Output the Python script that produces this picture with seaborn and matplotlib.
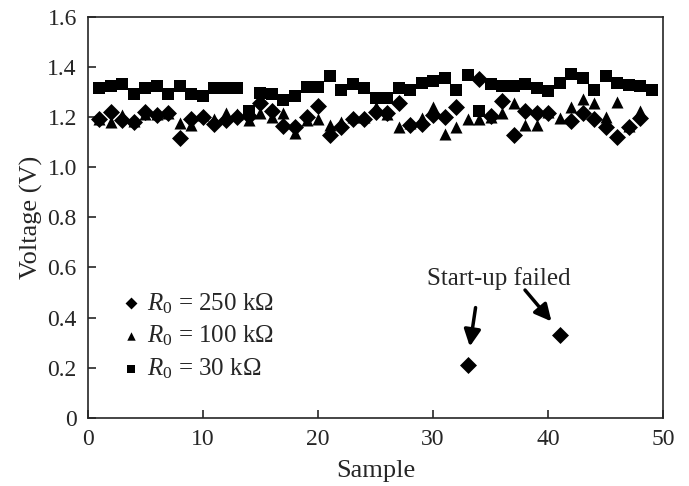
import numpy as np
import pandas as pd
import seaborn as sns
import matplotlib
matplotlib.use("Agg")
import matplotlib.pyplot as plt

samples = list(range(1, 50))

v_250k = [1.192, 1.219, 1.188, 1.181, 1.219, 1.208, 1.215, 1.117, 1.190, 1.198,
          1.172, 1.188, 1.201, 1.205, 1.257, 1.225, 1.163, 1.160, 1.200, 1.242,
          1.126, 1.158, 1.190, 1.190, 1.219, 1.217, 1.257, 1.168, 1.170, 1.209,
          1.200, 1.240, 0.211, 1.350, 1.204, 1.263, 1.128, 1.223, 1.215, 1.217,
          0.331, 1.183, 1.217, 1.190, 1.160, 1.120, 1.159, 1.197]

v_100k = [1.190, 1.178, 1.208, 1.185, 1.210, 1.210, 1.215, 1.177, 1.168, 1.208,
          1.190, 1.214, 1.212, 1.188, 1.214, 1.201, 1.214, 1.135, 1.188, 1.192,
          1.168, 1.181, 1.201, 1.200, 1.241, 1.210, 1.160, 1.175, 1.195, 1.238,
          1.130, 1.160, 1.190, 1.190, 1.200, 1.214, 1.254, 1.168, 1.166, 1.220,
          1.197, 1.240, 1.272, 1.255, 1.201, 1.261, 1.165, 1.225]

v_30k = [1.315, 1.325, 1.332, 1.291, 1.316, 1.325, 1.291, 1.325, 1.291, 1.282,
         1.314, 1.314, 1.314, 1.222, 1.297, 1.290, 1.267, 1.285, 1.318, 1.318,
         1.363, 1.307, 1.331, 1.314, 1.274, 1.274, 1.314, 1.307, 1.337, 1.344,
         1.356, 1.307, 1.365, 1.222, 1.331, 1.323, 1.323, 1.331, 1.314, 1.305,
         1.336, 1.370, 1.354, 1.307, 1.363, 1.336, 1.327, 1.323, 1.307]

labels = ["$R_0$ = 250 k\u03a9", "$R_0$ = 100 k\u03a9", "$R_0$ = 30 k\u03a9"]

sns.set_theme(style="ticks")
plt.rcParams["font.family"] = ["Liberation Serif", "DejaVu Serif"]
plt.rcParams["mathtext.fontset"] = "custom"
plt.rcParams["mathtext.rm"] = "Liberation Serif"
plt.rcParams["mathtext.it"] = "Liberation Serif:italic"

fig = plt.figure(figsize=(6.89, 4.86), dpi=100)
ax = fig.add_axes([0.1277, 0.1399, 0.8346, 0.8261])

df_250 = pd.DataFrame({"Sample": samples[:len(v_250k)], "Voltage": v_250k})
df_100 = pd.DataFrame({"Sample": samples[:len(v_100k)], "Voltage": v_100k})
df_30 = pd.DataFrame({"Sample": samples[:len(v_30k)], "Voltage": v_30k})

sns.scatterplot(data=df_250, x="Sample", y="Voltage", marker="D", s=75,
                color="black", linewidth=0, label=labels[0], ax=ax)
sns.scatterplot(data=df_100, x="Sample", y="Voltage", marker="^", s=75,
                color="black", linewidth=0, label=labels[1], ax=ax)
sns.scatterplot(data=df_30, x="Sample", y="Voltage", marker="s", s=75,
                color="black", linewidth=0, label=labels[2], ax=ax)

# failed start-up annotation
ax.text(35.7, 0.557, "Start-up failed", ha="center", va="center", fontsize=18)
arrow = dict(arrowstyle="-|>", color="black", lw=2.5, mutation_scale=25, shrinkA=0, shrinkB=0)
ax.annotate("", xy=(33.2, 0.285), xytext=(33.7, 0.44), arrowprops=arrow)
ax.annotate("", xy=(40.3, 0.385), xytext=(38.0, 0.51), arrowprops=arrow)

ax.set_xlim(0, 50)
ax.set_ylim(0, 1.6)
ax.set_xticks([0, 10, 20, 30, 40, 50])
yt = [0, 0.2, 0.4, 0.6, 0.8, 1.0, 1.2, 1.4, 1.6]
ax.set_yticks(yt)
ax.set_yticklabels(["0"] + [f"{v:.1f}" for v in yt[1:]])
ax.tick_params(direction="in", length=6, width=1.2, labelsize=17, pad=8)
for sp in ax.spines.values():
    sp.set_visible(True)
    sp.set_linewidth(1.2)
ax.set_xlabel("Sample", fontsize=19, labelpad=7)
ax.set_ylabel("Voltage (V)", fontsize=19, labelpad=3)

ax.legend(loc="lower left", bbox_to_anchor=(0.018, 0.048), frameon=False,
          fontsize=18, handletextpad=0.05, labelspacing=0.33, borderpad=0.2,
          handlelength=1.2, markerscale=0.7)

plt.savefig("out.png", dpi=100)
